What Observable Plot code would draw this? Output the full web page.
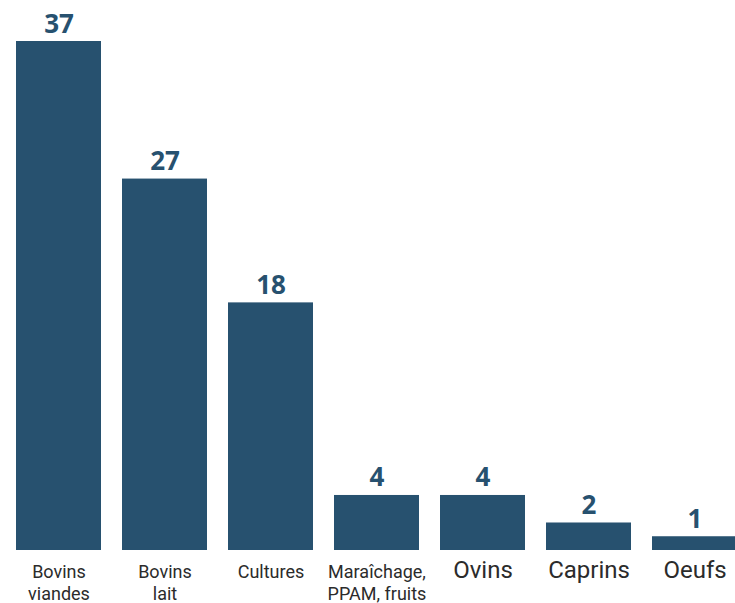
<!DOCTYPE html>
<html>
<head>
<meta charset="utf-8">
<script src="https://cdn.jsdelivr.net/npm/d3@7"></script>
<script src="https://cdn.jsdelivr.net/npm/@observablehq/plot@0.6"></script>
<style>
  html, body { margin: 0; padding: 0; background: #fff; overflow: hidden; }
  #chart svg { overflow: hidden; }
</style>
</head>
<body>
<div id="chart"></div>
<script>
const categories = ["Bovins viandes", "Bovins lait", "Cultures", "Maraîchage, PPAM, fruits", "Ovins", "Caprins", "Oeufs"];
const values = [37, 27, 18, 4, 4, 2, 1];
const tickLabels = ["Bovins\nviandes", "Bovins\nlait", "Cultures", "Maraîchage,\nPPAM, fruits", "Ovins", "Caprins", "Oeufs"];

const largeLabels = new Set(["Ovins", "Caprins", "Oeufs"]);
const data = categories.map((c, i) => ({category: c, value: values[i], label: tickLabels[i]}));
const smallData = data.filter(d => !largeLabels.has(d.label));
const largeData = data.filter(d => largeLabels.has(d.label));

const barColor = "#27516f";

const chart = Plot.plot({
  width: 735,
  height: 603,
  marginTop: 41,
  marginBottom: 53,
  marginLeft: 0,
  marginRight: 0,
  style: {overflow: "hidden", background: "#fff"},
  x: {domain: categories, range: [5.4, 747.4], paddingInner: 0.2, paddingOuter: 0.1, axis: null},
  y: {domain: [0, 37], axis: null},
  marks: [
    Plot.barY(data, {x: "category", y: "value", fill: barColor}),
    Plot.text(data, {
      x: "category", y: "value", text: d => String(d.value),
      lineAnchor: "bottom", dy: -9,
      fontFamily: "Open Sans", fontWeight: "bold", fontSize: 26, fill: barColor
    }),
    Plot.text(smallData, {
      x: "category", y: () => 0, text: "label",
      lineAnchor: "top", dy: 12,
      fontFamily: "Roboto", fontSize: 18, lineHeight: 1.22, fill: "#2b2b2b"
    }),
    Plot.text(largeData, {
      x: "category", y: () => 0, text: "label",
      lineAnchor: "top", dy: 10,
      fontFamily: "Roboto", fontSize: 24, fill: "#2b2b2b"
    })
  ]
});
document.getElementById("chart").appendChild(chart);
</script>
</body>
</html>
